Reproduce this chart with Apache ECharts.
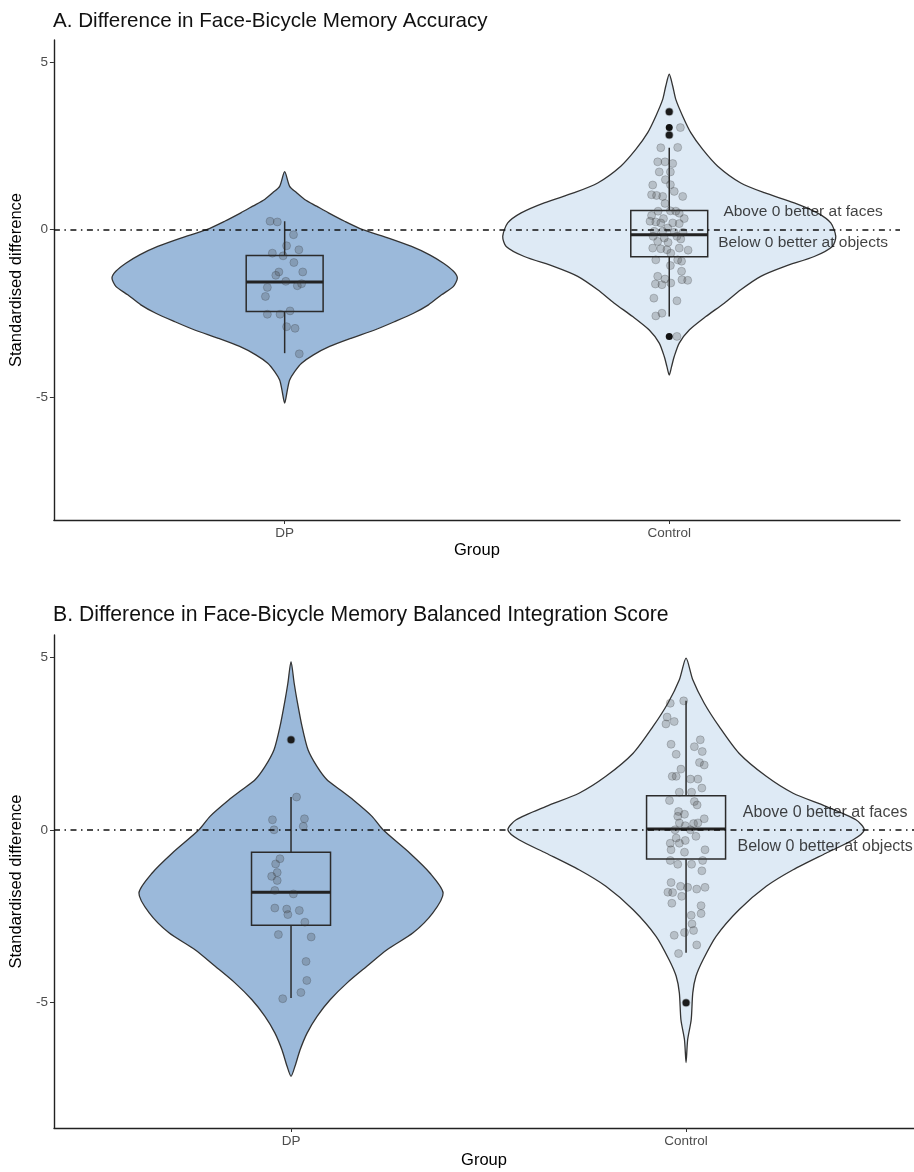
<!DOCTYPE html>
<html>
<head>
<meta charset="utf-8">
<script src="https://cdn.jsdelivr.net/npm/echarts@6/dist/echarts.min.js"></script>
<style>
html,body{margin:0;padding:0;background:#fff;}
#chart{width:914px;height:1172px;}
</style>
</head>
<body>
<div id="chart"></div>
<script>
// ---------- data ----------
const groups = ['DP', 'Control'];
const yTicks = [-5, 0, 5];
const titles = ['A. Difference in Face-Bicycle Memory Accuracy', 'B. Difference in Face-Bicycle Memory Balanced Integration Score'];
const yName = 'Standardised difference';
const xName = 'Group';
const notes = ['Above 0 better at faces', 'Below 0 better at objects'];
const yRange = [-8.65, 5.65];
const xRanges = [[0.4, 2.6], [0.4, 2.577]];

// violin outlines: [value, half-width in group units]
const violinA_DP = [[1.73,0],[1.29,0.013],[1.10,0.031],[0.90,0.052],[0.70,0.083],[0.50,0.114],[0.25,0.156],[0,0.203],[-0.25,0.270],[-0.5,0.330],[-0.75,0.377],[-1.0,0.413],[-1.24,0.439],[-1.44,0.449],[-1.69,0.439],[-1.94,0.408],[-2.24,0.374],[-2.49,0.335],[-2.74,0.286],[-2.99,0.234],[-3.23,0.174],[-3.48,0.117],[-3.73,0.075],[-3.98,0.044],[-4.23,0.026],[-4.48,0.013],[-4.78,0.007],[-5.17,0]];
const violinA_Control = [[4.63,0],[4.28,0.009],[3.88,0.017],[3.38,0.035],[2.89,0.056],[2.39,0.087],[1.89,0.126],[1.39,0.186],[1.10,0.247],[0.80,0.325],[0.50,0.385],[0.20,0.420],[-0.20,0.433],[-0.50,0.424],[-0.80,0.377],[-1.10,0.299],[-1.39,0.238],[-1.79,0.186],[-2.19,0.143],[-2.59,0.095],[-2.99,0.052],[-3.38,0.026],[-3.78,0.013],[-4.08,0.006],[-4.33,0]];
const violinB_DP = [[4.88,0],[4.25,0.008],[3.77,0.015],[2.99,0.028],[2.32,0.043],[1.83,0.066],[1.45,0.091],[1.16,0.124],[0.87,0.157],[0.39,0.205],[0,0.233],[-0.68,0.301],[-1.26,0.352],[-1.83,0.385],[-2.41,0.359],[-2.99,0.309],[-3.48,0.243],[-3.96,0.192],[-4.44,0.142],[-4.93,0.099],[-5.41,0.066],[-5.89,0.041],[-6.38,0.023],[-6.86,0.010],[-7.15,0]];
const violinB_Control = [[4.98,0],[4.35,0.017],[3.67,0.046],[2.99,0.084],[2.22,0.134],[1.55,0.203],[1.06,0.271],[0.68,0.354],[0.29,0.430],[0,0.451],[-0.29,0.423],[-0.68,0.354],[-1.16,0.271],[-1.64,0.203],[-2.32,0.134],[-3.09,0.076],[-3.77,0.043],[-4.25,0.025],[-4.73,0.017],[-5.51,0.013],[-6.09,0.004],[-6.75,0]];

// box stats: [whisker low, Q1, median, Q3, whisker high]
const boxA_DP = [-3.68, -2.44, -1.56, -0.77, 0.25];
const boxA_Control = [-2.59, -0.81, -0.15, 0.57, 2.44];
const boxB_DP = [-4.88, -2.77, -1.81, -0.65, 0.95];
const boxB_Control = [-3.57, -0.85, 0.02, 0.99, 3.74];

// outliers
const outA_DP = [];
const outA_Control = [3.51, 3.04, 2.82, -3.18];
const outB_DP = [2.61];
const outB_Control = [-5.02];

// jittered points: [jitter offset, value]
const ptsA_DP = [[-0.038,0.25],[-0.019,0.23],[0.023,-0.15],[0.005,-0.48],[0.037,-0.60],[-0.032,-0.70],[-0.004,-0.78],[0.024,-0.98],[-0.015,-1.26],[-0.023,-1.36],[0.047,-1.26],[0.003,-1.54],[0.033,-1.67],[0.044,-1.61],[-0.045,-1.72],[-0.05,-1.99],[0.014,-2.42],[-0.045,-2.52],[-0.012,-2.52],[0.005,-2.89],[0.027,-2.94],[0.038,-3.70]];
const ptsA_Control = [[0.0,3.51],[0.029,3.04],[0.0,2.82],[-0.022,2.44],[0.022,2.45],[-0.030,2.02],[-0.011,2.02],[0.009,1.97],[-0.026,1.72],[0.003,1.72],[-0.010,1.49],[0.003,1.34],[-0.043,1.33],[0.013,1.14],[-0.046,1.04],[-0.033,1.02],[-0.017,0.99],[0.035,0.99],[-0.011,0.78],[-0.029,0.55],[0.017,0.55],[0.003,0.56],[0.026,0.49],[-0.046,0.42],[-0.015,0.33],[0.039,0.33],[-0.050,0.25],[-0.035,0.23],[-0.022,0.20],[0.009,0.20],[0.026,0.18],[-0.004,0.05],[-0.039,-0.05],[-0.017,-0.05],[0.013,-0.08],[0.036,-0.08],[-0.042,-0.20],[-0.013,-0.25],[0.020,-0.20],[-0.030,-0.35],[-0.003,-0.38],[0.030,-0.28],[-0.043,-0.55],[-0.022,-0.57],[-0.006,-0.60],[0.026,-0.55],[0.049,-0.61],[0.004,-0.70],[0.022,-0.90],[-0.035,-0.90],[0.032,-0.94],[0.003,-1.07],[0.032,-1.24],[0.033,-1.49],[0.048,-1.51],[-0.030,-1.39],[-0.011,-1.47],[-0.036,-1.62],[-0.019,-1.64],[0.004,-1.59],[-0.040,-2.04],[0.020,-2.12],[-0.019,-2.49],[-0.035,-2.57],[0.020,-3.18]];
const ptsB_DP = [[0.0,2.61],[0.014,0.95],[-0.047,0.29],[0.034,0.32],[-0.043,0.0],[0.031,0.10],[-0.028,-0.84],[-0.039,-0.99],[-0.035,-1.24],[-0.049,-1.35],[-0.035,-1.47],[-0.041,-1.76],[0.006,-1.86],[-0.041,-2.27],[-0.011,-2.30],[-0.008,-2.46],[0.021,-2.34],[0.035,-2.68],[-0.032,-3.04],[0.051,-3.11],[0.038,-3.82],[0.040,-4.37],[0.025,-4.72],[-0.021,-4.90]];
const ptsB_Control = [[0.0,-5.02],[-0.040,3.67],[-0.006,3.74],[-0.048,3.27],[-0.051,3.07],[-0.030,3.14],[0.036,2.61],[-0.038,2.48],[0.021,2.41],[0.041,2.27],[-0.025,2.19],[0.034,1.95],[0.046,1.88],[-0.013,1.76],[-0.035,1.55],[-0.025,1.55],[0.011,1.47],[0.030,1.47],[0.040,1.21],[-0.017,1.09],[0.014,1.09],[-0.042,0.85],[0.021,0.82],[-0.019,0.53],[-0.004,0.45],[0.028,0.72],[-0.021,0.39],[0.046,0.32],[0.019,0.18],[0.030,0.20],[-0.017,0.20],[-0.002,0.12],[-0.028,0.0],[0.011,0.0],[0.025,-0.19],[-0.025,-0.24],[-0.002,-0.31],[-0.040,-0.39],[-0.017,-0.39],[0.048,-0.58],[-0.038,-0.58],[-0.004,-0.65],[-0.040,-0.89],[-0.021,-1.00],[0.014,-1.00],[0.042,-0.89],[0.040,-1.19],[-0.038,-1.53],[-0.014,-1.64],[0.004,-1.67],[0.027,-1.72],[0.048,-1.67],[-0.046,-1.81],[-0.034,-1.82],[-0.011,-1.93],[-0.036,-2.13],[0.038,-2.20],[0.038,-2.43],[0.013,-2.48],[0.015,-2.73],[0.019,-2.92],[-0.004,-2.98],[-0.030,-3.06],[0.027,-3.34],[-0.019,-3.59]];

// annotation anchor: [x in group units, value] for each panel
const noteA = [[2.348, 0.52], [2.348, -0.38]];
const noteB = [[2.352, 0.50], [2.352, -0.50]];

// ---------- styles ----------
const FONT = "'Liberation Sans', Arial, sans-serif";
const fills = ['#9bb9da', '#deeaf5'];
const panels = [
  {violins:[violinA_DP, violinA_Control], boxes:[boxA_DP, boxA_Control], outs:[outA_DP, outA_Control], pts:[ptsA_DP, ptsA_Control], notes: noteA},
  {violins:[violinB_DP, violinB_Control], boxes:[boxB_DP, boxB_Control], outs:[outB_DP, outB_Control], pts:[ptsB_DP, ptsB_Control], notes: noteB}
];

const chart = echarts.init(document.getElementById('chart'), null, {renderer:'canvas'});

const grids = [
  {left:53, top:40, width:847, height:480},
  {left:54, top:635, width:860, height:493}
];
const xNameGaps = [22, 24];
const yNameGaps = [25, 25];

const xAxes = grids.map((g, i) => ({
  gridIndex:i, type:'value', min:xRanges[i][0], max:xRanges[i][1],
  name:xName, nameLocation:'middle', nameGap:xNameGaps[i],
  nameTextStyle:{fontFamily:FONT, fontSize:16.5, color:'#000'},
  axisLine:{show:true, onZero:false, lineStyle:{color:'#222', width:1.4}},
  axisTick:{show:true, customValues:[1,2], length:4, lineStyle:{color:'#333', width:1}},
  axisLabel:{show:true, customValues:[1,2], margin:6, fontFamily:FONT, fontSize:13.5, color:'#4d4d4d',
    formatter: v => groups[Math.round(v)-1] || ''},
  splitLine:{show:false}
}));
const yAxes = grids.map((g, i) => ({
  gridIndex:i, type:'value', min:yRange[0], max:yRange[1],
  name:yName, nameLocation:'middle', nameGap:yNameGaps[i],
  nameTextStyle:{fontFamily:FONT, fontSize:16.5, color:'#000'},
  axisLine:{show:true, onZero:false, lineStyle:{color:'#222', width:1.4}},
  axisTick:{show:true, customValues:yTicks, length:4, lineStyle:{color:'#333', width:1}},
  axisLabel:{show:true, customValues:yTicks, margin:6, fontFamily:FONT, fontSize:13.5, color:'#4d4d4d'},
  splitLine:{show:false}
}));

const series = [];
panels.forEach((p, pi) => {
  // violins
  series.push({
    type:'custom', xAxisIndex:pi, yAxisIndex:pi, z:1, silent:true,
    data: groups.map((g, gi) => [gi+1, 0]),
    encode:{x:0, y:1},
    renderItem: (params, api) => {
      const g = api.value(0);
      const shape = p.violins[g-1];
      const right = shape.map(([y, w]) => api.coord([g + w, y]));
      const left = shape.slice(1, -1).reverse().map(([y, w]) => api.coord([g - w, y]));
      return {type:'polygon', shape:{points:right.concat(left), smooth:0.25},
        style:{fill:fills[g-1], stroke:'#333', lineWidth:1.3}};
    }
  });
  // boxes
  series.push({
    type:'custom', xAxisIndex:pi, yAxisIndex:pi, z:2, silent:true,
    data: groups.map((g, gi) => [gi+1].concat(p.boxes[gi])),
    encode:{x:0, y:[1,2,3,4,5]},
    renderItem: (params, api) => {
      const g = api.value(0);
      const lo = api.value(1), q1 = api.value(2), md = api.value(3), q3 = api.value(4), hi = api.value(5);
      const hw = 0.1;
      const a = api.coord([g, hi]), b = api.coord([g, q3]), c = api.coord([g, q1]), d = api.coord([g, lo]);
      const tl = api.coord([g - hw, q3]), br = api.coord([g + hw, q1]);
      const ml = api.coord([g - hw, md]), mr = api.coord([g + hw, md]);
      const st = {stroke:'#2b2b2b', lineWidth:1.5, fill:null};
      return {type:'group', children:[
        {type:'line', shape:{x1:a[0], y1:a[1], x2:b[0], y2:b[1]}, style:st},
        {type:'line', shape:{x1:c[0], y1:c[1], x2:d[0], y2:d[1]}, style:st},
        {type:'rect', shape:{x:tl[0], y:tl[1], width:br[0]-tl[0], height:br[1]-tl[1]}, style:{stroke:'#2b2b2b', lineWidth:1.5, fill:'none'}},
        {type:'line', shape:{x1:ml[0], y1:ml[1], x2:mr[0], y2:mr[1]}, style:{stroke:'#222', lineWidth:3}}
      ]};
    }
  });
  // outliers
  series.push({
    type:'scatter', xAxisIndex:pi, yAxisIndex:pi, z:3, silent:true,
    symbolSize:7, itemStyle:{color:'#111', opacity:1},
    data: p.outs.flatMap((arr, gi) => arr.map(v => [gi+1, v]))
  });
  // jitter points
  series.push({
    type:'scatter', xAxisIndex:pi, yAxisIndex:pi, z:4, silent:true,
    symbolSize:8, itemStyle:{color:'rgba(60,60,60,0.3)', borderColor:'rgba(40,40,40,0.35)', borderWidth:0.8},
    data: p.pts.flatMap((arr, gi) => arr.map(([dx, v]) => [gi+1+dx, v]))
  });
  // zero reference line + notes
  series.push({
    type:'scatter', xAxisIndex:pi, yAxisIndex:pi, z:5, silent:true,
    symbolSize:0,
    data: p.notes.map((n, ni) => ({value:n, name:notes[ni]})),
    label:{show:true, position:'inside', formatter: prm => prm.name,
      fontFamily:FONT, fontSize: pi === 0 ? 15.5 : 16, color:'#111'},
    markLine:{silent:true, symbol:'none', animation:false,
      label:{show:false},
      lineStyle:{color:'#111', width:1.5, type:[6,4.5,1.5,4.5]},
      data:[{yAxis:0}]}
  });
});

chart.setOption({
  animation:false,
  backgroundColor:'#fff',
  title: titles.map((t, i) => ({text:t, left:48, top: i === 0 ? 6 : 600,
    textStyle:{fontFamily:FONT, fontSize: i === 0 ? 20.6 : 21.2, fontWeight:'normal', color:'#111'}})),
  grid: grids,
  xAxis: xAxes,
  yAxis: yAxes,
  series: series
});
</script>
</body>
</html>
